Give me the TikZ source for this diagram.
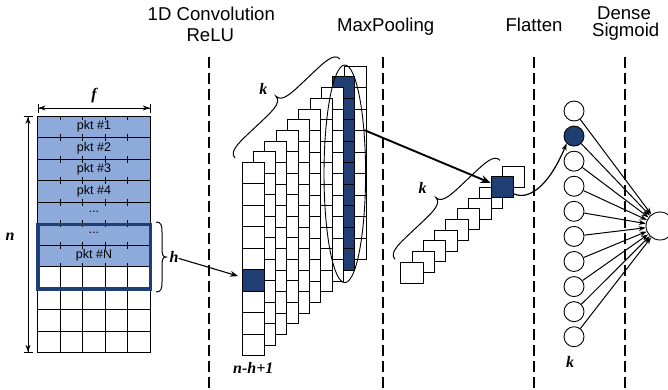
\documentclass[tikz,border=0pt]{standalone}
\usepackage{fontspec}
\setmainfont{Liberation Sans}
\newfontfamily\lblfont{Liberation Serif}
\usetikzlibrary{arrows.meta,shapes.geometric,calc}
\definecolor{lightblue}{RGB}{142,170,219}
\definecolor{navy}{RGB}{31,62,115}
\begin{document}
\begin{tikzpicture}[x=1pt,y=-1pt,
  title/.style={font=\fontsize{18.6}{20}\selectfont, anchor=base, inner sep=0},
  lab/.style={font=\lblfont\bfseries\itshape\fontsize{16}{16}\selectfont, inner sep=0},
  pkt/.style={font=\fontsize{12.5}{12.5}\selectfont, inner sep=0},
  sepline/.style={dash pattern=on 11pt off 5pt, line width=1.8pt},
  cell/.style={draw, line width=0.9pt},
  thin/.style={line width=0.9pt},
  kbrace/.pic={\draw[line width=1pt] (235,158) .. controls (228.6,151.2) and (239.7,141.9) .. (255.4,127.1) .. controls (271.2,112.2) and (282.3,102.9) .. (275.8,96.1) .. controls (282.3,102.9) and (292.2,92.4) .. (307.9,77.6) .. controls (323.7,62.7) and (333.6,52.2) .. (340,59);}
]
\useasboundingbox (0,0) rectangle (668,389);

% titles
\node[title] (t1) at (211.3,20.7) {1D Convolution};
\node[title] (t2) at (210.3,41.7) {ReLU};
\node[title] (t3) at (385.7,31.7) {MaxPooling};
\node[title] (t4) at (534,31.7) {Flatten};
\node[title] (t5) at (624,19.3) {Dense};
\node[title] (t6) at (625.7,36.7) {Sigmoid};

% separators
\foreach \x in {209.3,383.3,534,625} \draw[sepline] (\x,57) -- (\x,389);

% ---- input grid ----
\foreach \r in {0,...,6} \fill[lightblue] (37.5,116+\r*21.5) rectangle ++(113,21.5);
\foreach \r in {0,...,11} \draw[thin] (37.5,116+\r*21.5) -- ++(113,0);
\draw[thin] (37.5,116) -- (37.5,266.5) (150.5,116) -- (150.5,266.5);
\foreach \c in {1,...,4} {
  \draw[thin] (37.5+\c*22.6,116) -- ++(0,3.5);
  \foreach \r in {1,...,6} \draw[thin] (37.5+\c*22.6,116+\r*21.5-3.5) -- ++(0,7);
}
\foreach \c in {0,...,5} \draw[thin] (37.5+\c*22.6,263) -- (37.5+\c*22.6,352.5);
\node[pkt] (p1) at (94,126.75) {pkt \#1};
\node[pkt] (p2) at (94,148.25) {pkt \#2};
\node[pkt] (p3) at (94,169.75) {pkt \#3};
\node[pkt] (p4) at (94,191.25) {pkt \#4};
\node[pkt] (p5) at (94,211.5) {...};
\node[pkt] (p6) at (94,233) {...};
\node[pkt] (p7) at (94,255.75) {pkt \#N};
\node[draw=navy, line width=3.6pt, minimum width=112.8pt, minimum height=64.5pt, inner sep=0] (win) at (94.1,256.6) {};

% f and n dimension arrows
\coordinate (fa) at (37.7,108); \coordinate (fb0) at (150.7,108);
\draw[thin, {Bar[width=9pt]Stealth[length=7pt,width=5pt]}-{Stealth[length=7pt,width=5pt]Bar[width=9pt]}] (fa) -- (fb0);
\node[lab] (fl) at (94,96) {f};
\coordinate (na) at (28,116); \coordinate (nb) at (28,352.7);
\draw[thin, {Bar[width=9pt]Stealth[length=7pt,width=5pt]}-{Stealth[length=7pt,width=5pt]Bar[width=9pt]}] (na) -- (nb);
\node[lab] (nl) at (10,236.7) {n};

% h brace
\draw[line width=1pt] (156,222) .. controls (161,222) and (162,225) .. (162,232) -- (162,248) .. controls (162,254) and (162.5,257) .. (166,257) .. controls (162.5,257) and (162,260) .. (162,266) -- (162,282) .. controls (162,289) and (161,292) .. (156,292);
\node[lab] (hl) at (174,257) {h};

% ---- convolution stack ----
\foreach \i in {9,...,0} {
  \ifnum\i=8 \def\fc{navy}\else\def\fc{white}\fi
  \pgfmathsetmacro\L{242.3+11.3*\i}
  \pgfmathsetmacro\T{162.3-10.67*\i}
  \foreach \r in {0,...,8} \draw[cell, fill=\fc] (\L,\T+\r*21.5) rectangle ++(22,21.5);
}
\node[draw, fill=navy, line width=0.9pt, minimum width=22pt, minimum height=21.5pt, inner sep=0] (cb) at (253.3,280.55) {};
\node[draw, ellipse, thin, minimum width=41.6pt, minimum height=217.6pt, inner sep=0] (ell) at (344.8,173.8) {};
\pic at (0,0) {kbrace};
\node[lab] (k1) at (263.3,89.3) {k};
\node[lab] (nh) at (253.3,368.3) {n-h+1};
\draw[line width=1.1pt, -{Stealth[length=8pt,width=6pt]}, shorten >=4pt] (hl) -- (cb);

% ---- flatten ----
\foreach \j in {9,7,6,5,4,3,2,1,0}
  \draw[cell, fill=white] (400.7+11.3*\j,262.3-10.7*\j) rectangle ++(22.5,21);
\node[draw, fill=navy, line width=0.9pt, minimum width=22.5pt, minimum height=21pt, inner sep=0] (fb) at (502.35,187.2) {};
\pic at (160,101.3) {kbrace};
\node[lab] (k2) at (422.7,188.3) {k};
\draw[line width=1.9pt, -{Stealth[length=10pt,width=8pt]}] (ell.66) -- (fb.160);

% ---- dense ----
\foreach \i in {0,...,9} {
  \ifnum\i=1 \def\fc{navy}\else\def\fc{white}\fi
  \node[circle, draw, thin, fill=\fc, minimum size=20pt, inner sep=0] (c\i) at (574,111+25.08*\i) {};
}
\node[circle, draw, thin, fill=white, minimum size=28pt, inner sep=0] (out) at (660,226) {};
\foreach \i in {0,...,9}
  \draw[line width=1pt, -{Stealth[length=7pt,width=5pt]}] (c\i) -- (out);
\node[lab] (k3) at (570,361.7) {k};
\draw[line width=1.2pt, -{Stealth[length=7pt,width=5pt]}] (fb.-30) .. controls (528,200) and (548,188) .. (c1.-135);
\end{tikzpicture}
\end{document}
